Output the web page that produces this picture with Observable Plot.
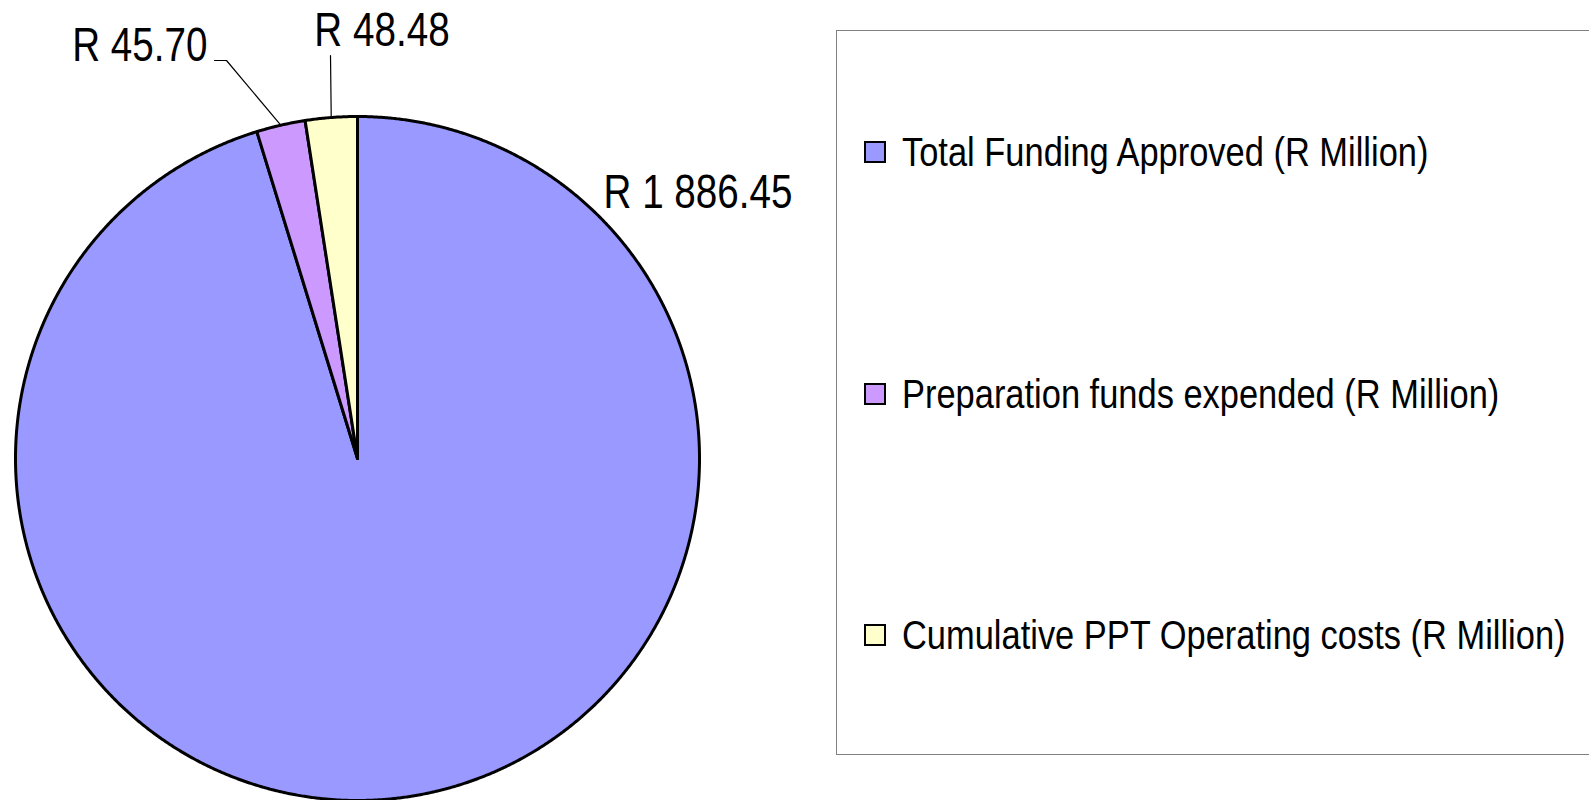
<!DOCTYPE html>
<html>
<head>
<meta charset="utf-8">
<script src="https://cdn.jsdelivr.net/npm/d3@7"></script>
<script src="https://cdn.jsdelivr.net/npm/@observablehq/plot@0.6"></script>
<style>
  html, body { margin: 0; padding: 0; background: #fff; overflow: hidden; }
  #wrap { position: relative; width: 1589px; height: 800px; }
  #wrap svg { position: absolute; left: 0; top: 0; }
  #legend { position: absolute; left: 836px; top: 30px; width: 800px; height: 725px;
            border: 1px solid #808080; box-sizing: border-box; }
  .sw { position: absolute; left: 864px; width: 22px; height: 22px; border: 2px solid #000; box-sizing: border-box; }
  .lt { position: absolute; left: 902px; font-family: "Liberation Sans", Arial, sans-serif; font-size: 41px;
        line-height: 41px; color: #000; white-space: nowrap; transform: scaleX(0.84); transform-origin: 0 0; }
</style>
</head>
<body>
<div id="wrap"></div>
<script>
// ---- data ----
const categories = [
  "Total Funding Approved (R Million)",
  "Preparation funds expended (R Million)",
  "Cumulative PPT Operating costs (R Million)"
];
const values = [1886.45, 45.70, 48.48];
const valueLabels = ["R 1 886.45", "R 45.70", "R 48.48"];
const colors = ["#9999FF", "#CC99FF", "#FFFFCC"];

// ---- layout ----
const W = 1589, H = 800;
const cx = 357, cy = 458, R = 342;
const xDomain = [-cx / R, (W - cx) / R];
const yDomain = [-(H - cy) / R, cy / R];

const arcs = d3.pie().sort(null).value(d => d.value)(
  categories.map((c, i) => ({key: c, value: values[i], label: valueLabels[i]}))
);

// polygon points of each slice (angle clockwise from 12 o'clock)
const slicePts = [];
arcs.forEach(a => {
  const key = a.data.key;
  slicePts.push({key, u: 0, v: 0});
  const n = Math.max(2, Math.ceil((a.endAngle - a.startAngle) / (Math.PI / 720)));
  for (let k = 0; k <= n; k++) {
    const t = a.startAngle + (a.endAngle - a.startAngle) * k / n;
    slicePts.push({key, u: Math.sin(t), v: Math.cos(t)});
  }
  slicePts.push({key, u: 0, v: 0});
});

// label placements (in radius units relative to centre)
const labelPlace = [
  {u: 246 / R, v: 251 / R, anchor: "start", leader: []},
  {u: -150 / R, v: 398 / R, anchor: "end", leader: [[-131 / R, 398 / R], [-143 / R, 398 / R]]},
  {u: 24.5 / R, v: 413 / R, anchor: "middle", leader: [[-27 / R, 403 / R]]}
];

const labelData = arcs.map((a, i) => ({label: a.data.label, ...labelPlace[i]}));
const leaderPts = [];
arcs.forEach((a, i) => {
  const lp = labelPlace[i];
  if (!lp.leader.length) return;
  const m = (a.startAngle + a.endAngle) / 2;
  leaderPts.push({id: i, u: Math.sin(m), v: Math.cos(m)});
  lp.leader.forEach(([u, v]) => leaderPts.push({id: i, u, v}));
});

const font = "'Liberation Sans', Arial, sans-serif";

const chart = Plot.plot({
  width: W, height: H,
  margin: 0,
  style: {background: "transparent", fontFamily: font},
  x: {domain: xDomain, axis: null},
  y: {domain: yDomain, axis: null},
  color: {domain: categories, range: colors},
  marks: [
    Plot.line(slicePts, {x: "u", y: "v", z: "key", fill: "key", stroke: "#000", strokeWidth: 3, strokeLinejoin: "round", curve: "linear"}),
    Plot.line(leaderPts, {x: "u", y: "v", z: "id", stroke: "#000", strokeWidth: 1.2}),
    ...labelData.map(d => Plot.text([d], {x: "u", y: "v", text: "label", textAnchor: d.anchor, lineAnchor: "bottom", fontSize: 48, fill: "#000"}))
  ]
});

// condensed (Arial-Narrow-like) appearance for value labels
chart.querySelectorAll("text").forEach(t => {
  const tr = t.getAttribute("transform") || "";
  t.setAttribute("transform", tr + " scale(0.805,1)");
});

const wrap = document.getElementById("wrap");
wrap.appendChild(chart);

// legend
const legend = document.createElement("div");
legend.id = "legend";
wrap.appendChild(legend);
const baselines = [163, 405, 646];
categories.forEach((c, i) => {
  const sw = document.createElement("div");
  sw.className = "sw";
  sw.style.top = (baselines[i] - 22) + "px";
  sw.style.background = colors[i];
  wrap.appendChild(sw);
  const tx = document.createElement("div");
  tx.className = "lt";
  tx.style.top = (baselines[i] - 0.8465 * 41 + 4) + "px";
  tx.textContent = c;
  wrap.appendChild(tx);
});
</script>
</body>
</html>
